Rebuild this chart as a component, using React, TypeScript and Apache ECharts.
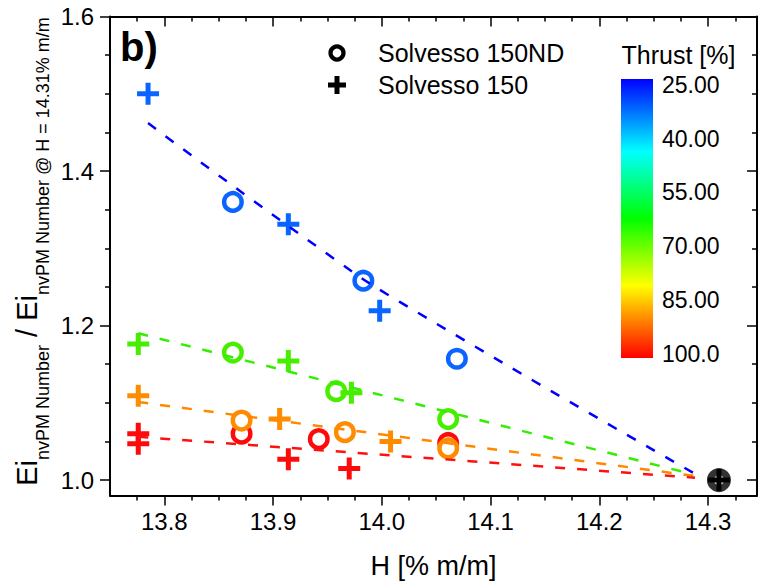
import React, { useEffect, useRef } from 'react';
import * as echarts from 'echarts';

const FONT = '"Liberation Sans", Arial, Helvetica, sans-serif';

// Axis ranges and tick positions
const X_MIN = 13.75;
const X_MAX = 14.345;
const Y_MIN = 0.98;
const Y_MAX = 1.6;
const xMajorTicks = [13.8, 13.9, 14.0, 14.1, 14.2, 14.3];
const xMinorTicks = [13.775, 13.825, 13.85, 13.875, 13.925, 13.95, 13.975, 14.025, 14.05, 14.075, 14.125, 14.15, 14.175, 14.225, 14.25, 14.275, 14.325];
const yMajorTicks = [1.0, 1.2, 1.4, 1.6];
const yMinorTicks = [1.05, 1.1, 1.15, 1.25, 1.3, 1.35, 1.45, 1.5, 1.55];

// Measured points: [H (% m/m), normalised EI]
const blue150ND = [[13.863, 1.36], [13.983, 1.258], [14.069, 1.157]];
const blue150 = [[13.785, 1.5], [13.914, 1.331], [13.998, 1.219]];
const green150ND = [[13.863, 1.165], [13.958, 1.115], [14.061, 1.079]];
const green150 = [[13.776, 1.176], [13.914, 1.154], [13.972, 1.113]];
const red150ND = [[13.871, 1.06], [13.942, 1.053], [14.061, 1.048]];
const red150 = [[13.776, 1.06], [13.776, 1.047], [13.914, 1.027], [13.97, 1.015]];
const orange150ND = [[13.871, 1.077], [13.966, 1.062], [14.061, 1.041]];
const orange150 = [[13.776, 1.109], [13.906, 1.079], [14.008, 1.05]];
const referencePoint = [[14.31, 1.0]];

// Fitted trend curves
const blueFit = [[13.785, 1.462], [13.949, 1.2935], [14.016, 1.231], [14.29, 1.0065]];
const greenFit = [[13.776, 1.19], [14.286, 1.0074]];
const orangeFit = [[13.776, 1.101], [14.288, 1.0052]];
const redFit = [[13.776, 1.056], [14.288, 1.003]];

// Colour bar
const thrustTicks = ['25.00', '40.00', '55.00', '70.00', '85.00', '100.0'];
const thrustStops: [number, string][] = [
  [0, '#0000ff'],
  [0.26, '#00ffff'],
  [0.5, '#00ff00'],
  [0.74, '#ffff00'],
  [1, '#ff0000'],
];

const COLORS = {
  blue: '#0a64ff',
  green: '#48ee00',
  red: '#ff0a0a',
  orange: '#ff8c00',
};
const LINE_COLORS = {
  blue: '#0000ff',
  green: '#33ee00',
  red: '#ff1010',
  orange: '#ff8800',
};

const PLUS = 'path://M8.5,0H13.5V8.5H22V13.5H13.5V22H8.5V13.5H0V8.5H8.5Z';

function textWidth(text: string, size: number): number {
  const ctx = document.createElement('canvas').getContext('2d');
  if (!ctx) return text.length * size * 0.55;
  ctx.font = `${size}px ${FONT}`;
  return ctx.measureText(text).width;
}

function circleSeries(name: string, data: number[][], color: string) {
  return {
    type: 'scatter',
    name,
    data,
    symbol: 'circle',
    symbolSize: 17.5,
    itemStyle: { color: '#ffffff', borderColor: color, borderWidth: 4.5, opacity: 1 },
    silent: true,
  };
}

function plusSeries(name: string, data: number[][], color: string) {
  return {
    type: 'scatter',
    name,
    data,
    symbol: PLUS,
    symbolSize: 22,
    itemStyle: { color, opacity: 1 },
    silent: true,
  };
}

function fitSeries(data: number[][], color: string, smooth: boolean) {
  return {
    type: 'line',
    data,
    symbol: 'none',
    showSymbol: false,
    smooth,
    silent: true,
    lineStyle: { color, width: 2.5, type: [10, 12] },
  };
}

function yTitle() {
  const BIG = 29;
  const SUB = 18;
  const pieces: [string, number, number][] = [
    ['Ei', BIG, 0],
    ['nvPM Number', SUB, 16],
    [' / Ei', BIG, 0],
    ['nvPM Number @ H = 14.31% m/m', SUB, 16],
  ];
  const widths = pieces.map(([t, s]) => textWidth(t, s));
  const total = widths.reduce((a, b) => a + b, 0);
  let pos = 0;
  const children = pieces.map(([t, s, dy], i) => {
    const el = {
      type: 'text',
      x: pos,
      y: dy,
      style: { text: t, fontSize: s, fontFamily: FONT, fill: '#000', align: 'left', verticalAlign: 'middle' },
    };
    pos += widths[i];
    return el;
  });
  return {
    type: 'group',
    x: 27,
    y: 251.5 + total / 2,
    rotation: Math.PI / 2,
    children,
  };
}

function legendGraphic() {
  const cx = 337;
  const plusY = 85;
  const h = 9;
  const a = 2.5;
  return [
    { type: 'circle', shape: { cx, cy: 53, r: 6.5 }, style: { fill: '#fff', stroke: '#000', lineWidth: 4.2 } },
    {
      type: 'polygon',
      shape: {
        points: [
          [cx - a, plusY - h], [cx + a, plusY - h], [cx + a, plusY - a], [cx + h, plusY - a],
          [cx + h, plusY + a], [cx + a, plusY + a], [cx + a, plusY + h], [cx - a, plusY + h],
          [cx - a, plusY + a], [cx - h, plusY + a], [cx - h, plusY - a], [cx - a, plusY - a],
        ],
      },
      style: { fill: '#000' },
    },
    { type: 'text', x: 378, y: 53, style: { text: 'Solvesso 150ND', fontSize: 25, fontFamily: FONT, fill: '#000', verticalAlign: 'middle' } },
    { type: 'text', x: 378, y: 85, style: { text: 'Solvesso 150', fontSize: 25, fontFamily: FONT, fill: '#000', verticalAlign: 'middle' } },
  ];
}

function colorBarGraphic() {
  const top = 79;
  const height = 279;
  const labelTop = 85;
  const step = 53.7;
  const els: any[] = [
    { type: 'text', x: 621.5, y: 55, style: { text: 'Thrust [%]', fontSize: 25, fontFamily: FONT, fill: '#000', verticalAlign: 'middle' } },
    {
      type: 'rect',
      shape: { x: 621, y: top, width: 32, height },
      style: {
        fill: new echarts.graphic.LinearGradient(0, 0, 0, 1, thrustStops.map(([offset, color]) => ({ offset, color }))),
      },
    },
  ];
  thrustTicks.forEach((t, i) => {
    els.push({ type: 'text', x: 662, y: labelTop + i * step, style: { text: t, fontSize: 23, fontFamily: FONT, fill: '#000', verticalAlign: 'middle' } });
  });
  return els;
}

function xAxes() {
  const base = { type: 'value', min: X_MIN, max: X_MAX, splitLine: { show: false } };
  const tickStyle = { color: '#000', width: 1.5 };
  return [
    {
      ...base,
      position: 'bottom',
      axisLine: { show: true, onZero: false, lineStyle: { color: '#000', width: 2 } },
      axisTick: { show: true, customValues: xMajorTicks, length: 10, lineStyle: tickStyle },
      axisLabel: { show: true, customValues: xMajorTicks, formatter: (v: number) => v.toFixed(1), fontSize: 24, fontFamily: FONT, color: '#000', margin: 14 },
      name: 'H [% m/m]',
      nameLocation: 'middle',
      nameGap: 57,
      nameTextStyle: { fontSize: 27, fontFamily: FONT, color: '#000' },
    },
    {
      ...base,
      position: 'bottom',
      axisLine: { show: false, onZero: false },
      axisTick: { show: true, customValues: xMinorTicks, length: 5, lineStyle: tickStyle },
      axisLabel: { show: false },
    },
    {
      ...base,
      position: 'top',
      axisLine: { show: true, onZero: false, lineStyle: { color: '#000', width: 2 } },
      axisTick: { show: true, inside: true, customValues: xMajorTicks, length: 10, lineStyle: tickStyle },
      axisLabel: { show: false },
    },
    {
      ...base,
      position: 'top',
      axisLine: { show: false, onZero: false },
      axisTick: { show: true, inside: true, customValues: xMinorTicks, length: 5, lineStyle: tickStyle },
      axisLabel: { show: false },
    },
  ];
}

function yAxes() {
  const base = { type: 'value', min: Y_MIN, max: Y_MAX, splitLine: { show: false } };
  const tickStyle = { color: '#000', width: 1.5 };
  return [
    {
      ...base,
      position: 'left',
      axisLine: { show: true, onZero: false, lineStyle: { color: '#000', width: 2 } },
      axisTick: { show: true, customValues: yMajorTicks, length: 10, lineStyle: tickStyle },
      axisLabel: { show: true, customValues: yMajorTicks, formatter: (v: number) => v.toFixed(1), fontSize: 24, fontFamily: FONT, color: '#000', margin: 16 },
    },
    {
      ...base,
      position: 'left',
      axisLine: { show: false, onZero: false },
      axisTick: { show: true, customValues: yMinorTicks, length: 5, lineStyle: tickStyle },
      axisLabel: { show: false },
    },
    {
      ...base,
      position: 'right',
      axisLine: { show: true, onZero: false, lineStyle: { color: '#000', width: 2 } },
      axisTick: { show: true, inside: true, customValues: yMajorTicks, length: 10, lineStyle: tickStyle },
      axisLabel: { show: false },
    },
    {
      ...base,
      position: 'right',
      axisLine: { show: false, onZero: false },
      axisTick: { show: true, inside: true, customValues: yMinorTicks, length: 5, lineStyle: tickStyle },
      axisLabel: { show: false },
    },
  ];
}

export default function App() {
  const ref = useRef<HTMLDivElement>(null);

  useEffect(() => {
    document.body.style.margin = '0';
    if (!ref.current) return;
    const chart = echarts.init(ref.current, null, { renderer: 'svg' });
    chart.setOption({
      animation: false,
      backgroundColor: '#ffffff',
      grid: { left: 110, right: 8, top: 16.5, bottom: 89.5, containLabel: false },
      xAxis: xAxes(),
      yAxis: yAxes(),
      series: [
        fitSeries(blueFit, LINE_COLORS.blue, true),
        fitSeries(greenFit, LINE_COLORS.green, false),
        fitSeries(orangeFit, LINE_COLORS.orange, false),
        fitSeries(redFit, LINE_COLORS.red, false),
        circleSeries('Solvesso 150ND', blue150ND, COLORS.blue),
        plusSeries('Solvesso 150', blue150, COLORS.blue),
        circleSeries('Solvesso 150ND', green150ND, COLORS.green),
        plusSeries('Solvesso 150', green150, COLORS.green),
        circleSeries('Solvesso 150ND', red150ND, COLORS.red),
        plusSeries('Solvesso 150', red150, COLORS.red),
        circleSeries('Solvesso 150ND', orange150ND, COLORS.orange),
        plusSeries('Solvesso 150', orange150, COLORS.orange),
        {
          type: 'scatter',
          name: 'Reference',
          data: referencePoint,
          symbol: 'circle',
          symbolSize: 17,
          itemStyle: { color: '#ffffff', borderColor: '#000', borderWidth: 7 },
          silent: true,
        },
        plusSeries('Reference', referencePoint, '#000000'),
      ],
      graphic: [
        { type: 'text', x: 120, y: 47, style: { text: 'b)', fontSize: 40, fontWeight: 'bold', fontFamily: FONT, fill: '#000', verticalAlign: 'middle' } },
        ...legendGraphic(),
        ...colorBarGraphic(),
        yTitle(),
      ],
    });
    return () => chart.dispose();
  }, []);

  return <div ref={ref} style={{ width: 765, height: 585 }} />;
}
